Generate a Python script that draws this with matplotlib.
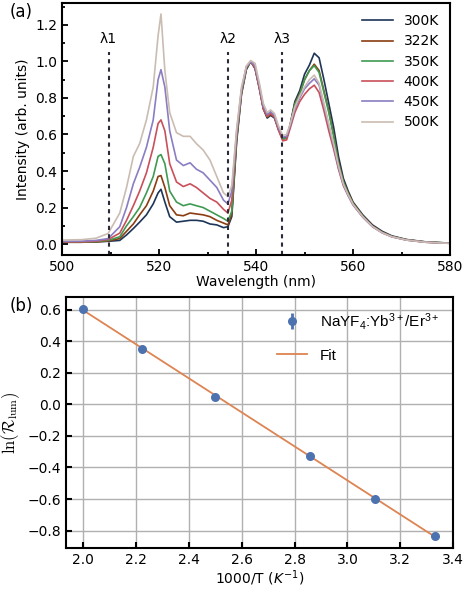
import numpy as np
import matplotlib
matplotlib.use('Agg')
from matplotlib import pyplot as plt
from matplotlib.ticker import AutoMinorLocator

plt.rcParams['mathtext.fontset'] = 'custom'
plt.rcParams['mathtext.rm'] = 'Liberation Sans'
plt.rcParams['mathtext.it'] = 'Liberation Sans:italic'

# emission spectra (normalised at 539 nm)
wavelength = [500, 504, 507, 509.5, 511.9, 513.3, 514.7, 516.0, 517.4, 518.8,
              519.8, 520.4, 521.2, 522.2, 523.6, 525.0, 526.4, 527.7, 529.1, 530.5,
              531.9, 533.3, 534.2, 535.0, 536.0, 537.0, 538.0, 538.9, 539.8, 540.7,
              541.5, 542.3, 543.0, 543.8, 544.6, 545.5, 546.3, 547.0, 548.0, 549.0,
              550.0, 551.0, 552.0, 553.0, 554.0, 555.0, 556.0, 557.0, 558.0, 559.0,
              560.0, 562.0, 564.0, 566.0, 568.0, 571.0, 575.0, 580.0]

i_300 = [0.010, 0.010, 0.012, 0.015, 0.020, 0.050, 0.085, 0.120, 0.160, 0.220,
         0.280, 0.300, 0.230, 0.150, 0.120, 0.125, 0.130, 0.130, 0.125, 0.110,
         0.105, 0.090, 0.095, 0.150, 0.560, 0.820, 0.955, 1.000, 0.960, 0.850,
         0.740, 0.690, 0.705, 0.690, 0.630, 0.580, 0.585, 0.650, 0.780, 0.840,
         0.930, 0.980, 1.045, 1.020, 0.900, 0.770, 0.640, 0.480, 0.360, 0.290,
         0.230, 0.160, 0.105, 0.070, 0.045, 0.025, 0.012, 0.005]
i_322 = [0.010, 0.010, 0.012, 0.017, 0.030, 0.070, 0.110, 0.160, 0.210, 0.290,
         0.370, 0.375, 0.310, 0.210, 0.160, 0.155, 0.170, 0.165, 0.160, 0.150,
         0.130, 0.115, 0.105, 0.165, 0.575, 0.825, 0.960, 1.000, 0.965, 0.855,
         0.745, 0.695, 0.710, 0.695, 0.630, 0.575, 0.580, 0.645, 0.770, 0.825,
         0.900, 0.950, 0.985, 0.950, 0.840, 0.730, 0.600, 0.450, 0.345, 0.280,
         0.225, 0.155, 0.100, 0.066, 0.042, 0.024, 0.011, 0.005]
i_350 = [0.012, 0.012, 0.014, 0.020, 0.040, 0.100, 0.150, 0.200, 0.280, 0.370,
         0.480, 0.490, 0.440, 0.290, 0.230, 0.210, 0.220, 0.210, 0.200, 0.180,
         0.160, 0.140, 0.125, 0.180, 0.585, 0.830, 0.965, 1.000, 0.970, 0.860,
         0.750, 0.700, 0.715, 0.700, 0.635, 0.575, 0.580, 0.645, 0.765, 0.820,
         0.900, 0.950, 0.977, 0.940, 0.830, 0.720, 0.590, 0.440, 0.340, 0.275,
         0.222, 0.152, 0.098, 0.064, 0.041, 0.023, 0.011, 0.005]
i_400 = [0.012, 0.012, 0.016, 0.025, 0.060, 0.130, 0.210, 0.290, 0.390, 0.530,
         0.660, 0.680, 0.620, 0.440, 0.340, 0.315, 0.330, 0.310, 0.280, 0.250,
         0.230, 0.190, 0.170, 0.240, 0.600, 0.840, 0.970, 1.000, 0.965, 0.850,
         0.740, 0.700, 0.715, 0.695, 0.625, 0.565, 0.570, 0.630, 0.720, 0.780,
         0.820, 0.850, 0.870, 0.830, 0.730, 0.620, 0.520, 0.410, 0.320, 0.265,
         0.215, 0.148, 0.096, 0.062, 0.040, 0.022, 0.010, 0.004]
i_450 = [0.015, 0.016, 0.020, 0.030, 0.095, 0.200, 0.330, 0.420, 0.530, 0.680,
         0.900, 0.955, 0.860, 0.620, 0.460, 0.430, 0.445, 0.410, 0.390, 0.350,
         0.310, 0.240, 0.220, 0.290, 0.615, 0.845, 0.970, 1.000, 0.975, 0.865,
         0.755, 0.710, 0.725, 0.705, 0.640, 0.585, 0.590, 0.645, 0.740, 0.800,
         0.850, 0.880, 0.905, 0.870, 0.760, 0.650, 0.540, 0.420, 0.325, 0.265,
         0.215, 0.148, 0.095, 0.062, 0.040, 0.022, 0.010, 0.004]
i_500 = [0.022, 0.024, 0.032, 0.058, 0.170, 0.310, 0.480, 0.550, 0.680, 0.860,
         1.140, 1.260, 0.950, 0.720, 0.610, 0.590, 0.590, 0.550, 0.515, 0.460,
         0.370, 0.280, 0.260, 0.320, 0.630, 0.860, 0.975, 1.005, 0.990, 0.880,
         0.770, 0.720, 0.735, 0.715, 0.650, 0.595, 0.600, 0.655, 0.750, 0.810,
         0.860, 0.900, 0.925, 0.880, 0.770, 0.660, 0.550, 0.430, 0.330, 0.270,
         0.218, 0.150, 0.096, 0.062, 0.040, 0.022, 0.010, 0.004]

spectra = [i_300, i_322, i_350, i_400, i_450, i_500]
temp_labels = ['300K', '322K', '350K', '400K', '450K', '500K']
colors = ['#1d3557', '#8b3d12', '#3f9a52', '#c9505a', '#8a7dc2', '#cbbcb2']

lambda_pos = [509.6, 534.2, 545.3]
lambda_names = ['λ1', 'λ2', 'λ3']

# ln of luminescence ratio vs 1000/T
inv_T = [1000 / 500, 1000 / 450, 1000 / 400, 1000 / 350, 1000 / 322, 1000 / 300]
ln_R = [0.605, 0.352, 0.045, -0.325, -0.600, -0.835]
ln_R_err = [0.012, 0.010, 0.010, 0.010, 0.010, 0.010]

fig = plt.figure(figsize=(4.63, 5.91), dpi=100)

# ---- (a) spectra ----
ax1 = fig.add_axes([0.134, 0.5685, 0.838, 0.4264])
for y, c, lab in zip(spectra, colors, temp_labels):
    ax1.plot(wavelength, y, color=c, lw=1.2, label=lab)

for xp, name in zip(lambda_pos, lambda_names):
    ax1.plot([xp, xp], [-0.06, 1.05], color='#2b2b3a', ls=(0, (2, 2)), lw=1.5)
    ax1.text(xp, 1.085, name, ha='center', va='bottom', fontsize=10)

ax1.set_xlim(500, 580)
ax1.set_ylim(-0.06, 1.32)
ax1.set_xticks([500, 520, 540, 560, 580])
ax1.set_yticks([0.0, 0.2, 0.4, 0.6, 0.8, 1.0, 1.2])
ax1.xaxis.set_minor_locator(AutoMinorLocator(2))
ax1.yaxis.set_minor_locator(AutoMinorLocator(2))
ax1.tick_params(which='both', direction='in', labelsize=10, width=1.3)
ax1.tick_params(which='major', length=4)
ax1.tick_params(which='minor', length=2.5)
for s in ax1.spines.values():
    s.set_linewidth(1.5)
ax1.set_xlabel('Wavelength (nm)', fontsize=10, labelpad=1)
ax1.set_ylabel('Intensity (arb. units)', fontsize=10)
ax1.legend(loc='upper right', frameon=False, fontsize=10, handlelength=2.2,
           labelspacing=0.45, borderaxespad=0.4)
fig.text(0.02, 0.995, '(a)', fontsize=12, va='top', ha='left')

# ---- (b) ln(R) vs 1000/T ----
ax2 = fig.add_axes([0.1425, 0.0728, 0.836, 0.4247])
ax2.grid(True, color='#b0b0b0', lw=1)
ax2.set_axisbelow(True)
eb = ax2.errorbar(inv_T, ln_R, yerr=ln_R_err, fmt='o', color='#4c72b0', ms=6.5,
                  capsize=4, capthick=2, elinewidth=2, mew=0, zorder=3)
slope, intercept = np.polyfit(inv_T, ln_R, 1)
fit_x = np.array([min(inv_T), max(inv_T)])
fit_line, = ax2.plot(fit_x, slope * fit_x + intercept, color='#dd8452', lw=1.3, zorder=2)

ax2.set_xlim(1.934, 3.4)
ax2.set_ylim(-0.91, 0.68)
ax2.set_xticks([2.0, 2.2, 2.4, 2.6, 2.8, 3.0, 3.2, 3.4])
ax2.set_yticks([-0.8, -0.6, -0.4, -0.2, 0.0, 0.2, 0.4, 0.6])
ax2.tick_params(direction='in', labelsize=10, width=1.5, length=4)
for s in ax2.spines.values():
    s.set_linewidth(1.5)
ax2.set_xlabel('1000/T ($K^{-1}$)', fontsize=10, labelpad=1,
               math_fontfamily='dejavusans')
ax2.set_ylabel(r'$\ln(\mathcal{R}_{\rm lum})$', fontsize=12, math_fontfamily='cm')
ax2.legend([eb, fit_line], ['NaYF$_4$:Yb$^{3+}$/Er$^{3+}$', 'Fit'],
           loc='upper right', frameon=False, labelspacing=1.1,
           prop={'family': 'Liberation Sans', 'size': 11})
fig.text(0.02, 0.497, '(b)', fontsize=12, va='top', ha='left')

fig.savefig('out.png', dpi=100)
